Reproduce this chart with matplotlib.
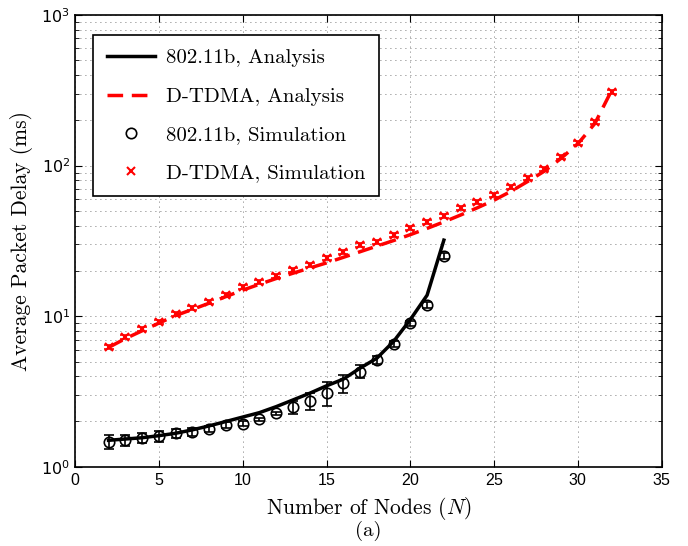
import numpy as np
import matplotlib
matplotlib.use("Agg")
import matplotlib.pyplot as plt

# ---- data ----
n_b = list(range(2, 23))
b_ana = [1.50, 1.53, 1.56, 1.61, 1.67, 1.76, 1.87, 2.00, 2.14, 2.29, 2.51, 2.78, 3.08,
         3.45, 3.82, 4.52, 5.26, 6.8, 9.5, 13.8, 32.0]
b_sim = [1.47, 1.50, 1.56, 1.59, 1.67, 1.71, 1.79, 1.90, 1.93, 2.07, 2.27, 2.49, 2.75,
         3.11, 3.59, 4.29, 5.13, 6.55, 9.0, 11.9, 25.1]
b_err = [0.10, 0.09, 0.08, 0.08, 0.07, 0.06, 0.05, 0.05, 0.04, 0.02, 0.02, 0.10, 0.13,
         0.18, 0.14, 0.10, 0.06, 0.05, 0.04, 0.04, 0.05]

n_d = list(range(2, 33))
d_ana = [6.2, 7.1, 8.0, 9.0, 10.1, 11.1, 12.2, 13.5, 14.9, 16.3, 17.8, 19.3, 20.9,
         22.6, 24.6, 26.8, 29.2, 31.8, 34.8, 38.3, 42.3, 47.0, 52.5, 59.0, 67.5, 78.5,
         92.0, 112.0, 140.0, 190.0, 315.0]
d_sim = [6.28, 7.26, 8.2, 9.2, 10.4, 11.3, 12.5, 13.8, 15.6, 16.8, 18.5, 20.3, 21.9,
         24.3, 26.8, 29.7, 31.3, 34.6, 38.4, 42.5, 46.5, 52.0, 57.6, 63.8, 72.4, 82.4,
         94.5, 114.6, 142.0, 195.0, 309.0]
d_err = [0.03] * 31

cm = "cmr10"
plt.rcParams["mathtext.fontset"] = "cm"
plt.rcParams["axes.formatter.use_mathtext"] = True

fig = plt.figure(figsize=(6.88, 5.46), dpi=100)
ax = fig.add_axes([0.109, 0.145, 0.853, 0.8275])

ax.plot(n_b, b_ana, "k-", lw=2.5, label="802.11b, Analysis")
ax.plot(n_d, d_ana, "r--", lw=2.5, dashes=(4.5, 2.5), label="D-TDMA, Analysis")

b_sim = np.array(b_sim)
d_sim = np.array(d_sim)
ax.errorbar(n_b, b_sim, yerr=b_sim * np.array(b_err), fmt="none", ecolor="k",
            elinewidth=1.2, capsize=3.5, capthick=1.2)
ax.errorbar(n_d, d_sim, yerr=d_sim * np.array(d_err), fmt="none", ecolor="r",
            elinewidth=1.2, capsize=3.5, capthick=1.2)
ax.plot(n_b, b_sim, "o", mfc="none", mec="k", ms=7.5, mew=1.2,
        label="802.11b, Simulation")
ax.plot(n_d, d_sim, "x", color="r", ms=6, mew=1.5, label="D-TDMA, Simulation")

ax.set_yscale("log")
ax.set_xlim(0, 35)
ax.set_ylim(1, 1000)
ax.set_xticks(range(0, 36, 5))
grid_ls = (0, (1, 5))
ax.grid(True, which="major", axis="x", ls=grid_ls, color="0.3", lw=0.6)
ax.grid(True, which="both", axis="y", ls=grid_ls, color="0.3", lw=0.6)
ax.tick_params(which="both", direction="in", top=True, right=True, labelsize=11.5)
ax.tick_params(which="major", length=5)
ax.tick_params(which="minor", length=3)
for lab in ax.get_xticklabels():
    lab.set_family("Liberation Sans")
for s in ax.spines.values():
    s.set_linewidth(1.2)

ax.set_xlabel("Number of Nodes ($N$)", family=cm, fontsize=15.5, labelpad=5)
ax.set_ylabel("Average Packet Delay (ms)", family=cm, fontsize=15.5, labelpad=6)
fig.text(0.535, 0.018, "(a)", family=cm, fontsize=15, ha="center")

leg = ax.legend(loc="upper left", bbox_to_anchor=(0.031, 0.955), borderaxespad=0,
                prop={"family": cm, "size": 15},
                fancybox=False, framealpha=1, edgecolor="k", handlelength=2.3,
                labelspacing=0.95, borderpad=0.65, handletextpad=0.55)
leg.get_frame().set_linewidth(1.2)

fig.savefig("out.png", dpi=100)
